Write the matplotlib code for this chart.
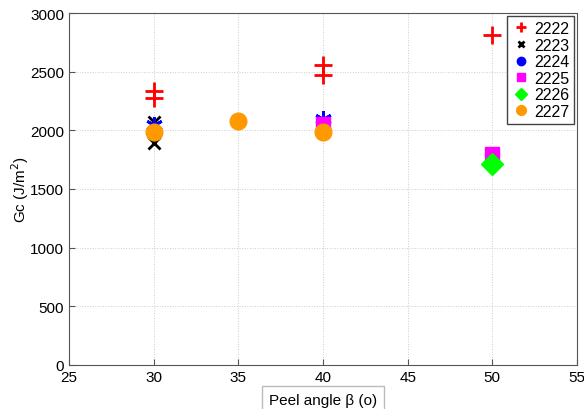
import matplotlib
matplotlib.use('Agg')
import matplotlib.pyplot as plt
from matplotlib.lines import Line2D

plt.rcParams['font.family'] = ['Liberation Sans', 'DejaVu Sans']

# peel angle (deg) and Gc (J/m^2) per specimen
x_2222 = [30, 30, 40, 40, 50]
y_2222 = [2333, 2273, 2560, 2474, 2810]
x_2223 = [30, 30]
y_2223 = [2070, 1892]
x_2224 = [30, 40]
y_2224 = [2045, 2097]
x_2225 = [40, 50]
y_2225 = [2050, 1798]
x_2226 = [50]
y_2226 = [1713]
x_2227 = [30, 35, 40]
y_2227 = [1989, 2082, 1983]

labels = ['2222', '2223', '2224', '2225', '2226', '2227']

fig = plt.figure(figsize=(5.84, 4.10), dpi=100)
ax = fig.add_axes([69/584, 44/410, 508/584, 352/410])

ax.plot(x_2222, y_2222, ls='none', marker='+', color='red', ms=13, mew=2)
ax.plot(x_2223, y_2223, ls='none', marker='x', color='black', ms=9, mew=2)
ax.plot(x_2224, y_2224, ls='none', marker=(6, 2, 0), color='blue', ms=12, mew=2)
ax.plot(x_2225, y_2225, ls='none', marker='s', color='magenta', ms=10)
ax.plot(x_2226, y_2226, ls='none', marker='D', color='#00ff00', ms=11)
ax.plot(x_2227, y_2227, ls='none', marker='o', color='#ff9900', ms=12)

ax.set_xlim(25, 55)
ax.set_ylim(0, 3000)
ax.set_xticks(range(25, 56, 5))
ax.set_yticks(range(0, 3001, 500))
ax.grid(True, ls=':', color='#cccccc', lw=0.7)
ax.tick_params(direction='in', labelsize=11, length=4, color='#555555')
for s in ax.spines.values():
    s.set_color('#555555')

ax.set_ylabel('Gc (J/m$^2$)', fontsize=11)
ax.yaxis.set_label_coords(-0.075, 0.5)
ax.set_xlabel('Peel angle β (o)', fontsize=11,
              bbox=dict(facecolor='white', edgecolor='#bbbbbb', pad=5))
ax.xaxis.set_label_coords(0.5, -0.08)

handles = [
    Line2D([], [], ls='none', marker='+', color='red', ms=7, mew=2),
    Line2D([], [], ls='none', marker='x', color='black', ms=5, mew=2),
    Line2D([], [], ls='none', marker='o', color='blue', ms=6),
    Line2D([], [], ls='none', marker='s', color='magenta', ms=6),
    Line2D([], [], ls='none', marker='D', color='#00ff00', ms=6),
    Line2D([], [], ls='none', marker='o', color='#ff9900', ms=7),
]
leg = ax.legend(handles, labels, loc='upper right', fontsize=11.5, fancybox=False,
                borderpad=0.3, labelspacing=0.1, handletextpad=0.2,
                handlelength=1.2, borderaxespad=0.2, framealpha=1)
leg.get_frame().set_edgecolor('#444444')

fig.savefig('out.png', dpi=100)
